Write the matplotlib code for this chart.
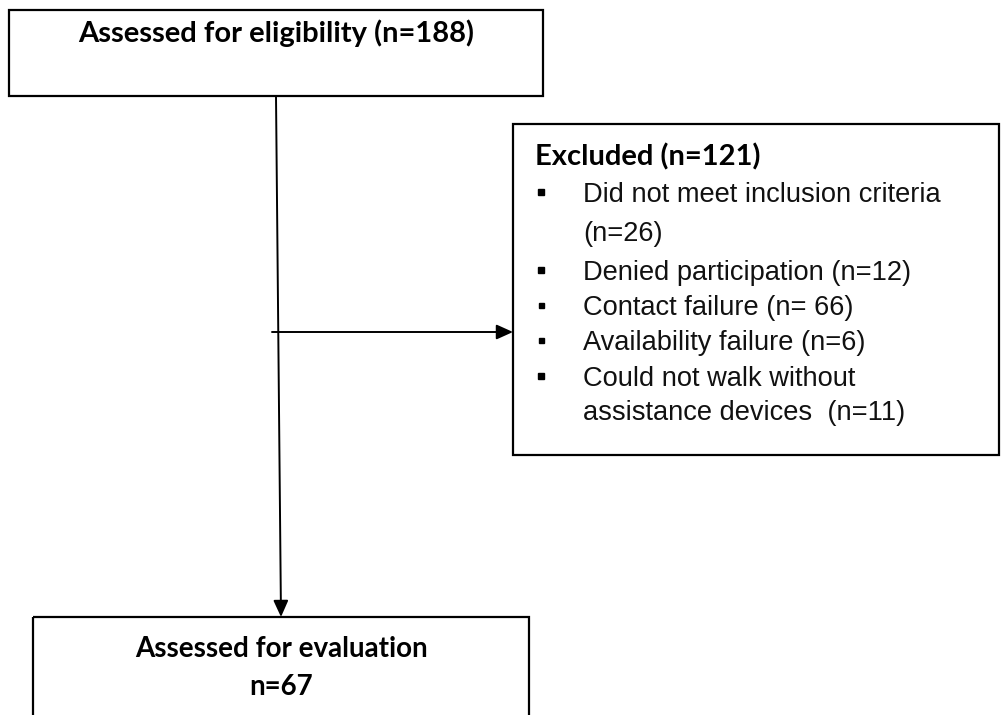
import matplotlib
matplotlib.use("Agg")
import matplotlib.pyplot as plt
from matplotlib.patches import Rectangle

# ── content ───────────────────────────────────────────────────────────────────
TOP_LABEL = "Assessed for eligibility (n=188)"
EXCL_TITLE = "Excluded (n=121)"
EXCL_LINES = [
    "Did not meet inclusion criteria",
    "(n=26)",
    "Denied participation (n=12)",
    "Contact failure (n= 66)",
    "Availability failure (n=6)",
    "Could not walk without",
    "assistance devices  (n=11)",
]
BULLET_ON = [True, False, True, True, True, True, False]
BULLET_BIG = [True, False, True, False, False, True, False]
BOTTOM_LINES = ["Assessed for evaluation", "n=67"]

# ── layout (pixel coords, y down) ─────────────────────────────────────────────
W, H = 1001, 715
TOP_BOX = (9, 10, 543, 96)        # x0, y0, x1, y1
EXCL_BOX = (513, 124, 999, 455)
BOT_BOX = (33, 617, 529, 730)
LINE_BASE = [202, 241, 280, 315, 350, 386, 420]

HEAD = "Lato"
BODY = "Liberation Sans"

fig = plt.figure(figsize=(W / 100, H / 100), dpi=100)
ax = fig.add_axes([0, 0, 1, 1])
ax.set_xlim(0, W)
ax.set_ylim(H, 0)
ax.axis("off")

def box(b):
    x0, y0, x1, y1 = b
    ax.add_patch(Rectangle((x0, y0), x1 - x0, y1 - y0, fill=False,
                           edgecolor="black", linewidth=1.6, clip_on=False))

for b in (TOP_BOX, EXCL_BOX, BOT_BOX):
    box(b)

# arrows
arrow = dict(arrowstyle="-|>,head_length=1.0,head_width=0.45", color="black",
             lw=1.4, shrinkA=0, shrinkB=0)
ax.annotate("", xy=(281, 617), xytext=(276, 96), arrowprops=arrow)
ax.annotate("", xy=(513, 332), xytext=(272, 332), arrowprops=arrow)

# texts
ax.text(276, 42, TOP_LABEL, ha="center", va="baseline", fontsize=21,
        fontweight="bold", family=HEAD)
ax.text(535, 165, EXCL_TITLE, ha="left", va="baseline", fontsize=21,
        fontweight="bold", family=HEAD)

for line, yb, on, big in zip(EXCL_LINES, LINE_BASE, BULLET_ON, BULLET_BIG):
    ax.text(583, yb, line, ha="left", va="baseline", fontsize=19.6,
            family=BODY, color="#111111")
    if on:
        ax.plot(541, yb - 10, marker="s", color="black",
                markersize=5.0 if big else 3.6, linestyle="none")

ax.text(281, 657, BOTTOM_LINES[0], ha="center", va="baseline", fontsize=20,
        fontweight="bold", family=HEAD)
ax.text(281, 695, BOTTOM_LINES[1], ha="center", va="baseline", fontsize=20,
        fontweight="bold", family=HEAD)

fig.savefig("out.png", dpi=100, facecolor="white")
